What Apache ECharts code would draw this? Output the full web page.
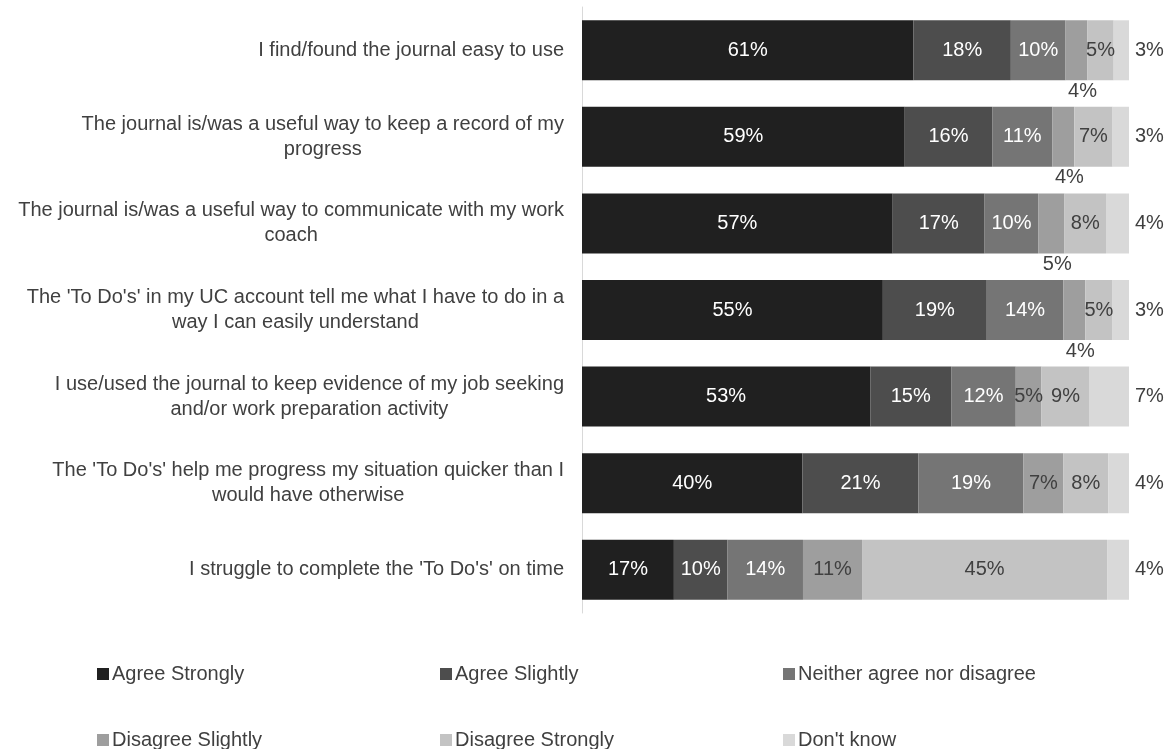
<!DOCTYPE html>
<html>
<head>
    <meta charset="utf-8">
    <title>Journal and To Do's survey</title>
    <style>
        html, body { margin: 0; padding: 0; background: #fff; }
        #container { width: 1169px; height: 749px; }
    </style>
</head>
<body>
    <div id="container"></div>

    <script src="https://cdn.jsdelivr.net/npm/echarts@6/dist/echarts.min.js"></script>
    <script>
    // statements, top to bottom
    var questions = [
        "I find/found the journal easy to use",
        "The journal is/was a useful way to keep a record of my\nprogress",
        "The journal is/was a useful way to communicate with my work\ncoach",
        "The 'To Do's' in my UC account tell me what I have to do in a\nway I can easily understand",
        "I use/used the journal to keep evidence of my job seeking\nand/or work preparation activity",
        "The 'To Do's' help me progress my situation quicker than I\nwould have otherwise",
        "I struggle to complete the 'To Do's' on time"
    ];

    var seriesNames = ['Agree Strongly', 'Agree Slightly', 'Neither agree nor disagree',
        'Disagree Slightly', 'Disagree Strongly', "Don't know"];

    // shares in % (labels show them rounded)
    var agreeStrongly    = [60.6, 59, 56.8, 55, 52.7, 40.3, 16.8];
    var agreeSlightly    = [17.8, 16, 16.8, 19, 14.8, 21.2, 9.8];
    var neither          = [10.0, 11, 9.8, 14, 11.8, 19.2, 13.8];
    var disagreeSlightly = [4.0, 4, 4.8, 4, 4.7, 7.3, 10.8];
    var disagreeStrongly = [4.8, 7, 7.6, 5, 8.8, 8.2, 44.8];
    var dontKnow         = [2.8, 3, 4.2, 3, 7.2, 3.8, 4.0];

    var colors = ['#202020', '#4d4d4d', '#757575', '#9e9e9e', '#c3c3c3', '#d9d9d9'];
    var textGrey = '#404040';
    var font = "'Liberation Sans', Arial, sans-serif";
    var belowRows = [0, 1, 2, 3];   // disagree slightly label sits under the bar here

    function pct(p) { return Math.round(p.value) + '%'; }

    var allValues = [agreeStrongly, agreeSlightly, neither, disagreeSlightly, disagreeStrongly, dontKnow];
    var series = [];
    for (var i = 0; i < allValues.length; i++) {
        var s = {
            name: seriesNames[i],
            type: 'bar',
            stack: 'total',
            barWidth: 60,
            itemStyle: { color: colors[i] },
            label: {
                show: true,
                position: 'inside',
                formatter: pct,
                fontFamily: font,
                fontSize: 20,
                color: i < 3 ? '#ffffff' : textGrey
            },
            data: allValues[i].slice()
        };
        if (i == 3) {
            s.data = allValues[i].map(function (v, k) {
                if (belowRows.indexOf(k) >= 0) {
                    return { value: v, label: { position: 'bottom', distance: 1, offset: [6, 0] } };
                }
                return v;
            });
        }
        if (i == 5) {
            s.label.position = 'right';
            s.label.distance = 6;
        }
        series.push(s);
    }

    // legend: 3 columns x 2 rows, one legend box per entry
    var legendLeft = [97, 440, 783];
    var legendTop = [662, 728];
    var legends = [];
    for (var j = 0; j < seriesNames.length; j++) {
        legends.push({
            left: legendLeft[j % 3],
            top: legendTop[Math.floor(j / 3)],
            padding: 0,
            itemWidth: 12,
            itemHeight: 12,
            icon: 'rect',
            selectedMode: false,
            data: [seriesNames[j]],
            textStyle: { fontFamily: font, fontSize: 20, color: textGrey, lineHeight: 24, padding: [0, 0, 0, -2] }
        });
    }

    var myChart = echarts.init(document.getElementById('container'));
    var option = {
        animation: false,
        textStyle: { fontFamily: font },
        grid: { left: 582, right: 40, top: 7, height: 606 },
        legend: legends,
        xAxis: {
            type: 'value',
            min: 0,
            max: 100,
            show: false
        },
        yAxis: {
            type: 'category',
            inverse: true,
            data: questions,
            axisLine: { lineStyle: { color: '#d9d9d9' } },
            axisTick: { length: 7, lineStyle: { color: '#d9d9d9' } },
            axisLabel: {
                margin: 18,
                formatter: function (v) {
                    return v.split('\n').map(function (t) { return '{c|' + t + '}'; }).join('\n');
                },
                rich: {
                    c: { align: 'center', fontFamily: font, fontSize: 20, lineHeight: 25, color: textGrey }
                }
            }
        },
        series: series
    };
    myChart.setOption(option);
    </script>
</body>
</html>
